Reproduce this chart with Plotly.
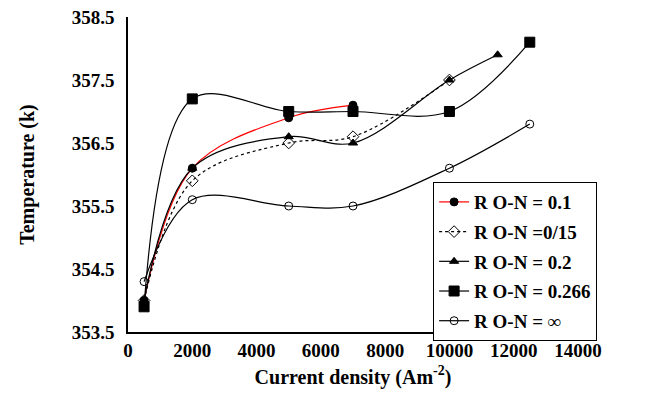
import plotly.graph_objects as go

x_01 = [500, 2000, 5000, 7000]
y_01 = [354.0, 356.1, 356.9, 357.1]

x_015 = [500, 2000, 5000, 7000, 10000]
y_015 = [354.0, 355.9, 356.5, 356.6, 357.5]

x_02 = [500, 2000, 5000, 7000, 10000, 11500]
y_02 = [354.0, 356.1, 356.6, 356.5, 357.5, 357.9]

x_0266 = [500, 2000, 5000, 7000, 10000, 12500]
y_0266 = [353.9, 357.2, 357.0, 357.0, 357.0, 358.1]

x_inf = [500, 2000, 5000, 7000, 10000, 12500]
y_inf = [354.3, 355.6, 355.5, 355.5, 356.1, 356.8]

x_ticks = [0, 2000, 4000, 6000, 8000, 10000, 12000, 14000]
y_ticks = [353.5, 354.5, 355.5, 356.5, 357.5, 358.5]

names = ["R O-N = 0.1", "R O-N =0/15", "R O-N = 0.2", "R O-N = 0.266", "R O-N = \u221e"]

FONT = "Times New Roman, Liberation Serif, serif"

fig = go.Figure()

def add(x, y, name, lcolor, dash, symbol, msize, mcolor, grp):
    fig.add_trace(go.Scatter(
        x=x, y=y, name="<b>" + name + "</b>", mode="lines+markers",
        line=dict(color=lcolor, width=1.2, dash=dash, shape="spline", smoothing=1.0),
        marker=dict(symbol=symbol, size=msize, color=mcolor,
                    line=dict(color="black", width=1)),
        legendgroup=grp,
    ))

add(x_01, y_01, names[0], "red", "solid", "circle", 8, "black", "a")
add(x_015, y_015, names[1], "black", "dot", "diamond-open", 9, "black", "b")
add(x_02, y_02, names[2], "black", "solid", "triangle-up", 8, "black", "c")
add(x_0266, y_0266, names[3], "black", "solid", "square", 10, "black", "d")
add(x_inf, y_inf, names[4], "black", "solid", "circle-open", 8, "black", "e")

fig.update_layout(
    width=650, height=407,
    margin=dict(l=128, r=72, t=17, b=75, autoexpand=False),
    paper_bgcolor="white", plot_bgcolor="white",
    font=dict(family=FONT, color="black"),
    showlegend=True,
    legend=dict(
        x=0.678, y=0.476, xanchor="left", yanchor="top",
        bordercolor="black", borderwidth=1, bgcolor="white",
        font=dict(family=FONT, size=19, color="black"),
        tracegroupgap=2,
    ),
    xaxis=dict(
        range=[0, 14000], tickvals=x_ticks, ticktext=["<b>%d</b>" % v for v in x_ticks],
        showgrid=False, zeroline=False, showline=True, linecolor="black", linewidth=2,
        ticks="", tickfont=dict(family=FONT, size=19), automargin=False,
        title=dict(text="<b>Current density (Am<sup>-2</sup>)</b>", font=dict(family=FONT, size=20), standoff=10),
    ),
    yaxis=dict(
        range=[353.5, 358.5], tickvals=y_ticks, ticktext=["<b>%.1f</b>" % v for v in y_ticks],
        showgrid=False, zeroline=False, showline=True, linecolor="black", linewidth=1.5,
        ticks="", tickfont=dict(family=FONT, size=19), ticklabelstandoff=8, automargin=False,
        title=dict(text="<b>Temperature (k)</b>", font=dict(family=FONT, size=20), standoff=32),
    ),
)

fig.write_html("out.html", config={"displayModeBar": False},
               post_script="document.body.style.margin='0';")
